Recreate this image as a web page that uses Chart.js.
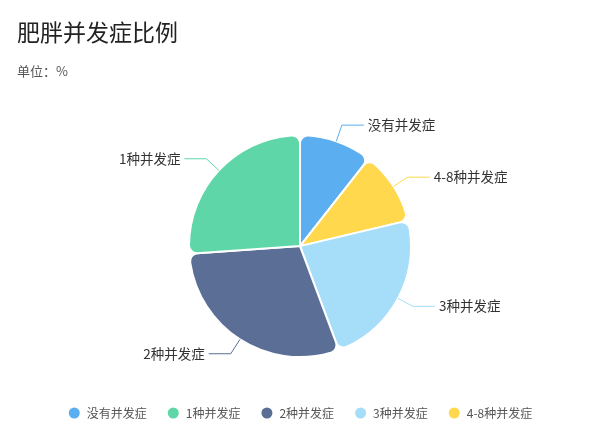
<!DOCTYPE html>
<html>
<head>
<meta charset="utf-8">
<script src="https://cdn.jsdelivr.net/npm/chart.js@4/dist/chart.umd.min.js"></script>
<style>
  html, body { margin: 0; padding: 0; background: #fff; }
  #chart-wrap { width: 600px; height: 434px; }
</style>
</head>
<body>
<div id="chart-wrap"><canvas id="chart-obesity" width="600" height="434"></canvas></div>
<script>
// slices, clockwise from the top as in the picture
const categories = ['没有并发症', '4-8种并发症', '3种并发症', '2种并发症', '1种并发症'];
const shares = [10.6, 10.7, 23.0, 29.6, 26.1];
const sliceColors = ['#5BAEEF', '#FFD84E', '#A6DEF9', '#5A6E96', '#5FD6A8'];
// legend reads in this order
const legendOrder = ['没有并发症', '1种并发症', '2种并发症', '3种并发症', '4-8种并发症'];

const FONT = '"Noto Sans CJK SC", "Noto Sans", sans-serif';

// outside labels with a bent leader line
const sliceLabels = {
  id: 'sliceLabels',
  afterDatasetsDraw(chart) {
    const ctx = chart.ctx;
    const meta = chart.getDatasetMeta(0);
    ctx.save();
    ctx.font = '13.5px ' + FONT;
    ctx.textBaseline = 'middle';
    meta.data.forEach((arc, i) => {
      const p = arc.getProps(['x', 'y', 'startAngle', 'endAngle', 'outerRadius'], true);
      const mid = (p.startAngle + p.endAngle) / 2;
      const c = Math.cos(mid), s = Math.sin(mid);
      const x0 = p.x + p.outerRadius * c, y0 = p.y + p.outerRadius * s;
      const x1 = p.x + (p.outerRadius + 17) * c, y1 = p.y + (p.outerRadius + 17) * s;
      const dir = c >= 0 ? 1 : -1;
      const x2 = x1 + dir * 22;
      ctx.strokeStyle = sliceColors[i];
      ctx.lineWidth = 1;
      ctx.beginPath();
      ctx.moveTo(x0, y0);
      ctx.lineTo(x1, y1);
      ctx.lineTo(x2, y1);
      ctx.stroke();
      ctx.fillStyle = '#333';
      ctx.textAlign = dir > 0 ? 'left' : 'right';
      ctx.fillText(chart.data.labels[i], x2 + dir * 4, y1);
    });
    ctx.restore();
  }
};

const chartObesity = document.getElementById('chart-obesity');

new Chart(chartObesity, {
  type: 'pie',
  data: {
    labels: categories,
    datasets: [{
      data: shares,
      backgroundColor: sliceColors,
      borderColor: '#fff',
      borderWidth: 2,
      borderRadius: 8,
      hoverOffset: 0
    }]
  },
  options: {
    responsive: false,
    animation: false,
    radius: 111,
    layout: { padding: { left: 17, right: 17, top: 0, bottom: 5 } },
    plugins: {
      title: {
        display: true,
        text: '肥胖并发症比例',
        align: 'start',
        color: '#222',
        font: { family: FONT, size: 23, weight: 'normal' },
        padding: { top: 18, bottom: 14 }
      },
      subtitle: {
        display: true,
        text: '单位：%',
        align: 'start',
        color: '#555',
        font: { family: FONT, size: 13, weight: 'normal' },
        padding: { top: 4, bottom: 26 }
      },
      legend: {
        position: 'bottom',
        labels: {
          usePointStyle: true,
          pointStyle: 'circle',
          pointStyleWidth: 13,
          boxHeight: 9.2,
          padding: 20,
          color: '#555',
          font: { family: FONT, size: 12 },
          sort: (a, b) => legendOrder.indexOf(a.text) - legendOrder.indexOf(b.text)
        }
      },
      tooltip: { enabled: false }
    }
  },
  plugins: [sliceLabels]
});
</script>
</body>
</html>
